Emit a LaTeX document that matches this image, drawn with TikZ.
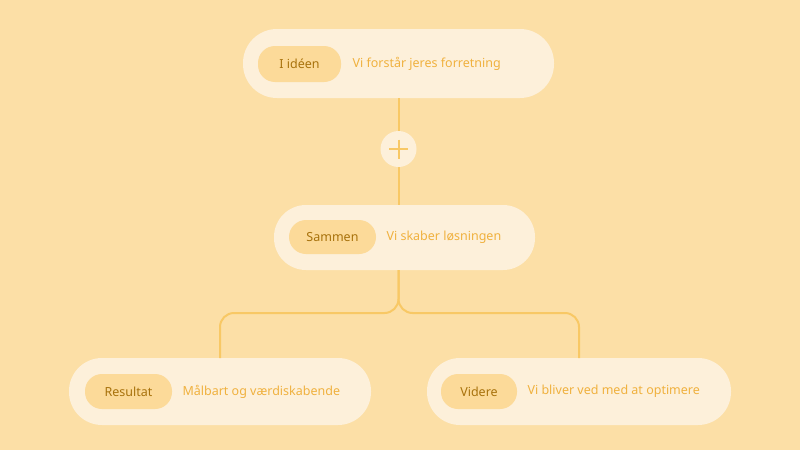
\documentclass[tikz,border=0pt]{standalone}
\usepackage{fontspec}
\setmainfont{Noto Sans}
\definecolor{bg}{HTML}{FCDFA6}
\definecolor{boxc}{HTML}{FDF0DA}
\definecolor{pillc}{HTML}{FCDA99}
\definecolor{dark}{HTML}{A8720C}
\definecolor{light}{HTML}{F0B13E}
\definecolor{linec}{HTML}{F8C865}
\begin{document}
\begin{tikzpicture}[x=1pt,y=-1pt,
  card/.style={fill=boxc,rounded corners=#1},
  pill/.style={fill=pillc,rounded corners=17pt},
  lab/.style={font=\fontsize{12.5}{14}\selectfont\bfseries,text=dark},
  desc/.style={font=\fontsize{12.5}{14}\selectfont,text=light,anchor=west},
  conn/.style={draw=linec,line width=2pt,rounded corners=14pt}]
\fill[bg] (0,0) rectangle (800,450);
\useasboundingbox (0,0) rectangle (800,450);
% cards
\fill[card=34pt] (243,29) rectangle (554,98);
\fill[card=32pt] (274,205) rectangle (535,270);
\fill[card=33pt] (69,358) rectangle (371,425);
\fill[card=33pt] (427,358) rectangle (731,425);
% pills
\fill[pill] (258,46) rectangle (341,82);
\fill[pill] (289,220) rectangle (376,254);
\fill[pill] (85,374) rectangle (172,409);
\fill[pill] (441,374) rectangle (517,409);
\node[lab] (a) at (299.5,64) {I idéen};
\node[desc] (ad) at (349,64) {Vi forstår jeres forretning};
\node[lab] (b) at (332.5,237) {Sammen};
\node[desc] (bd) at (383,237) {Vi skaber løsningen};
\node[lab] (c) at (128.5,391.5) {Resultat};
\node[desc] (cd) at (179,391.5) {Målbart og værdiskabende};
\node[lab] (d) at (479,391.5) {Videre};
\node[desc] (dd) at (524,391.5) {Vi bliver ved med at optimere};
\coordinate (t) at (398.5,98);
\coordinate (m) at (398.5,205);
\coordinate (mb) at (398.5,270);
\coordinate (l) at (220,358);
\coordinate (r) at (579,358);
\draw[conn] (t) -- (m);
\node[circle,fill=boxc,minimum size=36pt,inner sep=0] (plus) at (398.5,149) {};
\draw[draw=linec,line width=2pt] (389,149) -- (408,149) (398.5,139.5) -- (398.5,158.5);
\draw[conn] (mb) -- (398.5,313) -| (l);
\draw[conn] (mb) -- (398.5,313) -| (r);
\end{tikzpicture}
\end{document}
